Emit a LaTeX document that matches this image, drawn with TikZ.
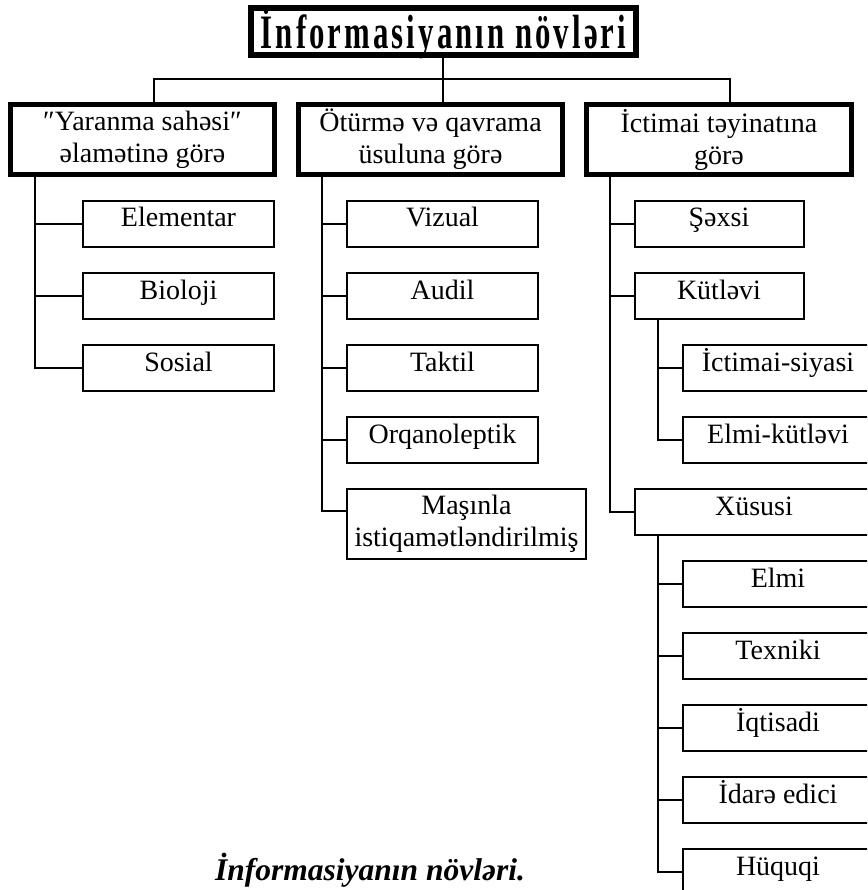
\documentclass[tikz,border=0pt]{standalone}
\usepackage{fontspec}
\setmainfont{Liberation Serif}
\usetikzlibrary{calc}
\begin{document}
\begin{tikzpicture}[x=1pt,y=-1pt,
  txt/.style={font=\fontsize{28}{32}\selectfont},
  topbox/.style={draw, line width=6pt, minimum width=385pt, minimum height=47pt, inner sep=0pt},
  catbox/.style={draw, line width=5pt, minimum width=264pt, minimum height=70pt, inner sep=0pt, align=center, txt},
  leaf/.style={draw, line width=2pt, minimum width=191pt, minimum height=46pt, inner sep=0pt, align=center, txt, text height=19pt, text depth=13pt},
  tallleaf/.style={draw, line width=2pt, minimum width=239pt, minimum height=70pt, inner sep=0pt, align=center, txt},
  wire/.style={line width=2pt}]
\clip (0,0) rectangle (867,890);
\fill[white] (0,0) rectangle (867,890);
% title
\node[topbox] (title) at (443.5,31.5) {};
\node[anchor=base, inner sep=0pt] (titletext) at (443.5,49) {\scalebox{0.77}[1.2]{\fontsize{40}{40}\selectfont\bfseries\addfontfeature{LetterSpace=10}İnformasiyanın növləri}};
% categories
\node[catbox] (cat1) at (142.5,139.5) {″Yaranma sahəsi″\\əlamətinə görə};
\node[catbox] (cat2) at (430.5,139.5) {Ötürmə və qavrama\\üsuluna görə};
\node[catbox, minimum width=265pt] (cat3) at (719,139.5) {İctimai təyinatına\\görə};
% bus
\coordinate (busL) at (154,79);
\coordinate (busR) at (730,79);
\coordinate (busM) at (443,79);
\draw[wire] (busL |- cat1.north) -- (busL) -- (busR) -- (busR |- cat3.north);
\draw[wire] (busM |- title.south) -- (busM |- cat2.north);
% column 1
\node[leaf] (elem) at (178.5,224) {Elementar};
\node[leaf] (bio) at (178.5,296) {Bioloji};
\node[leaf] (sos) at (178.5,368) {Sosial};
\coordinate (t1) at (35,177);
\draw[wire] (t1 |- cat1.south) |- (sos.west);
\draw[wire] (t1) |- (elem.west);
\draw[wire] (t1) |- (bio.west);
% column 2
\node[leaf] (viz) at (442.5,224) {Vizual};
\node[leaf] (aud) at (442.5,296) {Audil};
\node[leaf] (tak) at (442.5,368) {Taktil};
\node[leaf] (orq) at (442.5,440) {Orqanoleptik};
\node[tallleaf] (mas) at (466.5,524) {Maşınla\\istiqamətləndirilmiş};
\coordinate (t2) at (322,177);
\coordinate (masc) at ($(mas.north west)+(0,23)$);
\draw[wire] (t2 |- cat2.south) |- (masc);
\draw[wire] (t2) |- (viz.west);
\draw[wire] (t2) |- (aud.west);
\draw[wire] (t2) |- (tak.west);
\draw[wire] (t2) |- (orq.west);
% column 3
\node[leaf, minimum width=169pt] (sex) at (719,224) {Şəxsi};
\node[leaf, minimum width=169pt] (kut) at (719,296) {Kütləvi};
\node[leaf, minimum width=239pt] (xus) at (754,512) {Xüsusi};
\coordinate (t3) at (610,177);
\draw[wire] (t3 |- cat3.south) |- (xus.west);
\draw[wire] (t3) |- (sex.west);
\draw[wire] (t3) |- (kut.west);
% Kutlevi sub
\node[leaf] (ics) at (778,368) {İctimai-siyasi};
\node[leaf] (elk) at (778,440) {Elmi-kütləvi};
\coordinate (t4) at (658,320);
\draw[wire] (t4 |- kut.south) |- (elk.west);
\draw[wire] (t4) |- (ics.west);
% Xususi sub
\node[leaf] (elmi) at (778,584) {Elmi};
\node[leaf] (tex) at (778,656) {Texniki};
\node[leaf] (iqt) at (778,728) {İqtisadi};
\node[leaf] (ida) at (778,800) {İdarə edici};
\node[leaf] (huq) at (778,872) {Hüquqi};
\coordinate (t5) at (658,536);
\draw[wire] (t5 |- xus.south) |- (huq.west);
\draw[wire] (t5) |- (elmi.west);
\draw[wire] (t5) |- (tex.west);
\draw[wire] (t5) |- (iqt.west);
\draw[wire] (t5) |- (ida.west);
% caption
\node[anchor=base, inner sep=0pt, font=\fontsize{31.5}{36}\selectfont\bfseries\itshape] (cap) at (370,880) {İnformasiyanın növləri.};
\end{tikzpicture}
\end{document}
